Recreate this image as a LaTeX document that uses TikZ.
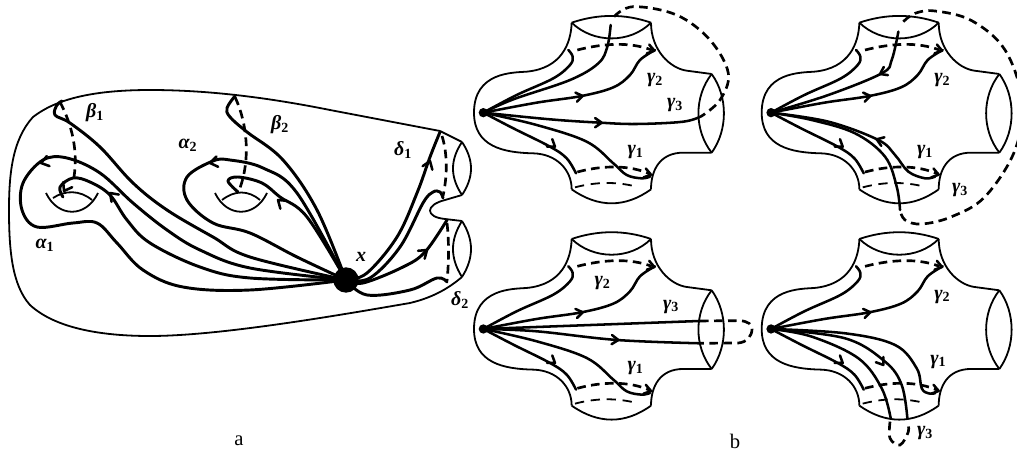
\documentclass[tikz,border=0pt]{standalone}
\usepackage{fontspec}
\setmainfont{Liberation Serif}
\tikzset{
  surf/.style={line width=1.35pt, line join=round},
  thk/.style={line width=2.2pt, line cap=round, line join=round},
  thn/.style={line width=1.9pt, line cap=round, line join=round},
  dsh/.style={line width=2pt, dash pattern=on 6.5pt off 4pt},
  backdsh/.style={line width=1.35pt, dash pattern=on 7pt off 5pt},
  lab/.style={font=\fontsize{15}{15}\selectfont\bfseries},
  figcap/.style={font=\fontsize{15.5}{16}\selectfont},
  dotnode/.style={circle, fill, inner sep=0pt, minimum size=#1}
}
\newcommand{\barblen}{9}
\newcommand{\barb}[3]{\draw[thn] (#1,#2) ++(#3+145:\barblen) -- (#1,#2) -- ++(#3-145:\barblen);}
\newcommand{\sublab}[2]{{\itshape #1}\textsubscript{#2}}
% one four holed piece, #3 is the base point name and #4 what differs in each copy
\newcommand{\pants}[4]{
  \begin{scope}[shift={(#1,#2)}, scale=1/3]
    \renewcommand{\barblen}{24}
    \draw[surf] (305,68) .. controls (385,41) and (465,41) .. (543,68);
    \draw[surf] (305,68) .. controls (370,131) and (480,131) .. (543,68);
    \draw[surf] (305,68) .. controls (303,130) and (275,205) .. (170,215) .. controls (130,218) and (12,215) .. (12,338)
      .. controls (12,440) and (100,458) .. (190,460) .. controls (260,462) and (305,510) .. (305,568);
    \draw[surf] (305,568) .. controls (385,624) and (465,624) .. (543,568);
    \draw[surf] (543,568) .. controls (543,510) and (570,458) .. (640,458) -- (725,458);
    \draw[surf] (725,222) -- (650,212) .. controls (600,205) and (543,150) .. (543,68);
    \draw[surf] (725,222) .. controls (672,290) and (672,390) .. (725,458);
    \draw[surf] (725,222) .. controls (774,290) and (774,390) .. (725,458);
    % waists
    \draw[dsh] (322,150) .. controls (400,130) and (480,125) .. (545,150);
    \draw[dsh] (322,516) .. controls (400,495) and (480,495) .. (540,522);
    \draw[backdsh] (315,562) .. controls (380,545) and (440,545) .. (500,560);
    \node[dotnode=7pt] (#3) at (40,338) {};
    \draw[thn] plot[smooth, tension=0.6] coordinates {(#3.center) (130,385) (240,440) (290,475) (318,520)};
    \draw[thn] plot[smooth, tension=0.6] coordinates {(#3.center) (200,308) (335,288) (430,262) (480,225) (510,180) (555,150)};
    \draw[thn] plot[smooth, tension=0.6] coordinates {(#3.center) (140,285) (250,235) (300,195) (308,170) (295,150)};
    \barb{255}{440}{35}
    \barb{338}{288}{-10}
    \barb{553}{152}{15}
    \barb{543}{524}{15}
    #4
  \end{scope}
}
\begin{document}
\begin{tikzpicture}[x=0.75pt, y=-0.75pt]
  \useasboundingbox (0,0) rectangle (1017,453);
  % surface of genus two
  \draw[surf] (440,131) -- (330,110) .. controls (270,98) and (210,90) .. (150,90)
    .. controls (90,90) and (55,100) .. (33,117) .. controls (12,140) and (9,175) .. (9,210)
    .. controls (9,250) and (12,285) .. (30,305) .. controls (55,328) and (100,336) .. (150,336)
    .. controls (220,336) and (340,315) .. (410,303) .. controls (435,297) and (450,287) .. (462,277);
  \draw[surf] (440,131) -- (462,142);
  \draw[surf] (462,195) -- (445,200) .. controls (425,205) and (425,217) .. (445,219) -- (462,221);
  \draw[surf] (462,142) .. controls (450,160) and (450,177) .. (462,195);
  \draw[surf] (462,142) .. controls (474,160) and (474,177) .. (462,195);
  \draw[surf] (462,221) .. controls (450,240) and (450,258) .. (462,277);
  \draw[surf] (462,221) .. controls (474,240) and (474,258) .. (462,277);
  % handles
  \draw[surf] (46,193) .. controls (58,218) and (86,218) .. (98,193);
  \draw[surf] (53,198) .. controls (65,190) and (80,190) .. (92,200);
  \draw[surf] (215,193) .. controls (227,218) and (255,218) .. (267,193);
  \draw[surf] (222,200) .. controls (235,190) and (248,190) .. (260,200);
  % dashed parts
  \draw[dsh] (60,102) .. controls (72,125) and (78,150) .. (74,177);
  \draw[dsh] (235,97) .. controls (248,125) and (250,160) .. (240,188);
  \draw[dsh] (442,136) .. controls (448,155) and (447,178) .. (443,196);
  \draw[dsh] (447,223) .. controls (449,240) and (449,262) .. (447,281);
  \node[dotnode=19pt] (ptx) at (346,280) {};
  % curves through x
  \draw[thk] plot[smooth, tension=0.6] coordinates {(ptx.center) (317,210) (283,160) (247,132) (230,117) (227,108) (235,96)};
  \draw[thk] plot[smooth, tension=0.6] coordinates {(ptx.center) (307,217) (280,197) (262,183) (238,177) (228,181) (238,192)};
  \draw[thk] plot[smooth, tension=0.6] coordinates {(ptx.center) (297,193) (263,168) (230,160) (213,161) (187,177) (187,200) (213,223) (250,233) (297,257) (ptx.center)};
  \draw[thk] plot[smooth, tension=0.6] coordinates {(ptx.center) (250,257) (213,237) (167,210) (133,183) (100,147) (70,123) (55,115) (57,105) (62,101)};
  \draw[thk] plot[smooth, tension=0.6] coordinates {(ptx.center) (250,268) (200,250) (167,230) (133,203) (100,173) (67,158) (43,160) (23,183) (22,210) (37,227) (73,223) (97,223) (117,243) (143,270) (183,287) (250,290) (ptx.center)};
  \draw[thk] plot[smooth, tension=0.6] coordinates {(ptx.center) (250,278) (200,267) (150,243) (127,220) (110,195) (90,182) (73,178) (60,187) (63,197)};
  \draw[thk] plot[smooth, tension=0.6] coordinates {(ptx.center) (367,273) (397,237) (417,193) (430,157) (440,132)};
  \draw[thk] plot[smooth, tension=0.6] coordinates {(ptx.center) (370,278) (400,247) (423,203) (433,192) (440,192) (443,198)};
  \draw[thk] plot[smooth, tension=0.6] coordinates {(ptx.center) (363,283) (403,267) (425,252) (447,220)};
  \draw[thk] plot[smooth, tension=0.6] coordinates {(ptx.center) (367,295) (410,290) (437,278) (447,282)};
  \barb{210}{163}{170}
  \barb{41}{163}{165}
  \barb{278}{200}{220}
  \barb{110}{193}{225}
  \barb{430}{161}{290}
  \barb{427}{250}{320}
  \barb{64}{191}{120}
  \node[lab] (betaa) at (95,113) {\sublab{β}{1}};
  \node[lab] (alphb) at (188,145) {\sublab{α}{2}};
  \node[lab] (alpha) at (45,245) {\sublab{α}{1}};
  \node[lab] (betab) at (280,125) {\sublab{β}{2}};
  \node[lab] (deltaa) at (403,150) {\sublab{δ}{1}};
  \node[lab] (deltab) at (460,300) {\sublab{δ}{2}};
  \node[lab] (labx) at (361,257) {\itshape x};
  \node[figcap] (capa) at (239,441) {a};
  \node[figcap] (capb) at (735,441) {b};
  % upper left copy
  \pants{470}{0}{pa}{
    \draw[thn] plot[smooth, tension=0.6] coordinates {(pa.center) (200,375) (350,425) (430,490) (470,525) (515,535) (540,530)};
    \draw[thn] plot[smooth, tension=0.6] coordinates {(pa.center) (130,298) (300,240) (385,190) (412,140) (422,75)};
    \draw[dsh] plot[smooth, tension=0.6] coordinates {(432,50) (490,20) (620,45) (720,120) (775,220) (750,300) (695,348)};
    \draw[thn] plot[smooth, tension=0.6] coordinates {(pa.center) (240,358) (390,368) (500,372) (640,365) (695,348)};
    \barb{395}{368}{0}
    \node[lab] (ga2) at (555,240) {\sublab{γ}{2}};
    \node[lab] (ga3) at (615,315) {\sublab{γ}{3}};
    \node[lab] (ga1) at (497,455) {\sublab{γ}{1}};
  }
  % upper right copy
  \pants{757.7}{0}{pb}{
    \draw[thn] plot[smooth, tension=0.6] coordinates {(pb.center) (212,285) (372,220) (402,180) (422,95)};
    \draw[dsh] plot[smooth, tension=0.6] coordinates {(437,65) (472,40) (532,33) (642,62) (742,150) (792,300) (772,450) (682,590) (582,650) (492,672) (442,660) (427,630)};
    \draw[thn] plot[smooth, tension=0.6] coordinates {(pb.center) (162,360) (292,400) (382,470) (417,560) (427,630)};
    \draw[thn] plot[smooth, tension=0.6] coordinates {(pb.center) (212,365) (362,420) (412,465) (452,515) (502,535) (532,530)};
    \barb{367}{222}{153}
    \barb{357}{418}{200}
    \node[lab] (gb2) at (554,240) {\sublab{γ}{2}};
    \node[lab] (gb1) at (502,455) {\sublab{γ}{1}};
    \node[lab] (gb3) at (607,570) {\sublab{γ}{3}};
  }
  % lower left copy
  \pants{470}{216.3}{pc}{
    \draw[thn] plot[smooth, tension=0.6] coordinates {(pc.center) (200,375) (350,425) (430,490) (470,525) (515,535) (540,530)};
    \draw[thn] (pc.center) -- (690,314);
    \draw[dsh] (690,314) -- (810,313) .. controls (835,315) and (846,325) .. (846,338) .. controls (846,360) and (830,378) .. (805,380) -- (690,381);
    \draw[thn] plot[smooth, tension=0.6] coordinates {(pc.center) (200,345) (440,371) (690,381)};
    \barb{445}{371}{3}
    \node[lab] (gc2) at (398,201) {\sublab{γ}{2}};
    \node[lab] (gc3) at (603,271) {\sublab{γ}{3}};
    \node[lab] (gc1) at (497,456) {\sublab{γ}{1}};
  }
  % lower right copy
  \pants{757.7}{216.3}{pd}{
    \draw[thn] plot[smooth, tension=0.6] coordinates {(pd.center) (262,351) (412,386) (477,456) (492,516) (512,531) (532,531)};
    \draw[thn] plot[smooth, tension=0.6] coordinates {(pd.center) (162,361) (302,426) (372,516) (399,606)};
    \draw[thn] plot[smooth, tension=0.6] coordinates {(pd.center) (262,366) (382,436) (432,506) (449,606)};
    \draw[dsh] plot[smooth, tension=0.6] coordinates {(397,616) (397,666) (427,686) (452,646) (449,616)};
    \barb{377}{446}{55}
    \node[lab] (gd2) at (554,241) {\sublab{γ}{2}};
    \node[lab] (gd1) at (542,436) {\sublab{γ}{1}};
    \node[lab] (gd3) at (502,651) {\sublab{γ}{3}};
  }
\end{tikzpicture}
\end{document}
